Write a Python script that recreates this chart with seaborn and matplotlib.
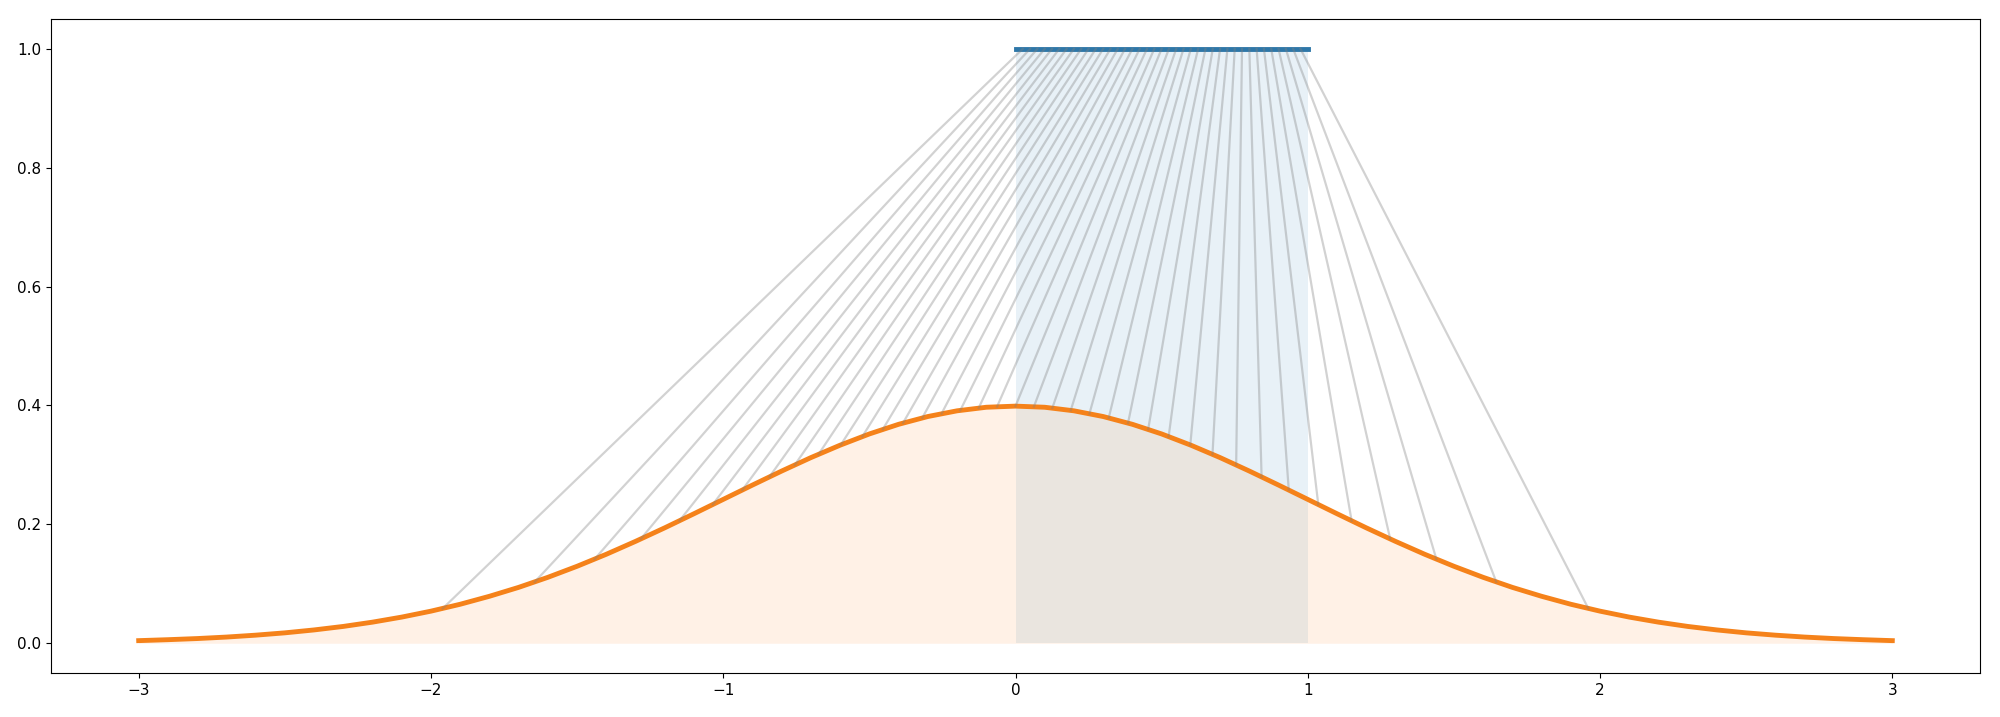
import matplotlib
matplotlib.use("Agg")
import matplotlib.pyplot as plt
import seaborn as sns
import numpy as np
import pandas as pd

# Normal density curve, x from -3 to 3 in steps of 0.1
curve_x = [-3.0, -2.9, -2.8, -2.7, -2.6, -2.5, -2.4, -2.3, -2.2, -2.1,
           -2.0, -1.9, -1.8, -1.7, -1.6, -1.5, -1.4, -1.3, -1.2, -1.1,
           -1.0, -0.9, -0.8, -0.7, -0.6, -0.5, -0.4, -0.3, -0.2, -0.1,
           0.0, 0.1, 0.2, 0.3, 0.4, 0.5, 0.6, 0.7, 0.8, 0.9,
           1.0, 1.1, 1.2, 1.3, 1.4, 1.5, 1.6, 1.7, 1.8, 1.9,
           2.0, 2.1, 2.2, 2.3, 2.4, 2.5, 2.6, 2.7, 2.8, 2.9, 3.0]
curve_y = [0.0044, 0.0060, 0.0079, 0.0104, 0.0136, 0.0175, 0.0224, 0.0283, 0.0355, 0.0440,
           0.0540, 0.0656, 0.0790, 0.0940, 0.1109, 0.1295, 0.1497, 0.1714, 0.1942, 0.2179,
           0.2420, 0.2661, 0.2897, 0.3123, 0.3332, 0.3521, 0.3683, 0.3814, 0.3910, 0.3970,
           0.3989, 0.3970, 0.3910, 0.3814, 0.3683, 0.3521, 0.3332, 0.3123, 0.2897, 0.2661,
           0.2420, 0.2179, 0.1942, 0.1714, 0.1497, 0.1295, 0.1109, 0.0940, 0.0790, 0.0656,
           0.0540, 0.0440, 0.0355, 0.0283, 0.0224, 0.0175, 0.0136, 0.0104, 0.0079, 0.0060, 0.0044]

# Uniform levels on the top bar
levels = [0.025, 0.050, 0.075, 0.100, 0.125, 0.150, 0.175, 0.200, 0.225, 0.250,
          0.275, 0.300, 0.325, 0.350, 0.375, 0.400, 0.425, 0.450, 0.475, 0.500,
          0.525, 0.550, 0.575, 0.600, 0.625, 0.650, 0.675, 0.700, 0.725, 0.750,
          0.775, 0.800, 0.825, 0.850, 0.875, 0.900, 0.925, 0.950, 0.975]
# Corresponding quantiles on the normal curve
quant_x = [-1.960, -1.645, -1.440, -1.282, -1.150, -1.036, -0.935, -0.842, -0.755, -0.674,
           -0.598, -0.524, -0.454, -0.385, -0.319, -0.253, -0.189, -0.126, -0.063, 0.000,
           0.063, 0.126, 0.189, 0.253, 0.319, 0.385, 0.454, 0.524, 0.598, 0.674,
           0.755, 0.842, 0.935, 1.036, 1.150, 1.282, 1.440, 1.645, 1.960]
quant_y = [0.0584, 0.1031, 0.1415, 0.1755, 0.2059, 0.2333, 0.2577, 0.2798, 0.3000, 0.3178,
           0.3336, 0.3477, 0.3599, 0.3704, 0.3791, 0.3863, 0.3918, 0.3957, 0.3981, 0.3989,
           0.3981, 0.3957, 0.3918, 0.3863, 0.3791, 0.3704, 0.3599, 0.3477, 0.3336, 0.3178,
           0.3000, 0.2798, 0.2577, 0.2333, 0.2059, 0.1755, 0.1415, 0.1031, 0.0584]

# Uniform density bar
uni_x = [0.0, 1.0]
uni_y = [1.0, 1.0]

fig = plt.figure(figsize=(20, 7.17), dpi=100)
ax = fig.add_axes([0.0255, 0.0614, 0.9645, 0.912])

# fills
ax.fill_between(uni_x, [0, 0], uni_y, color="C0", alpha=0.1, lw=0, zorder=0)
ax.fill_between(curve_x, 0, curve_y, color="C1", alpha=0.1, lw=0, zorder=0)

df_curve = pd.DataFrame({"x": curve_x, "y": curve_y})
sns.lineplot(data=df_curve, x="x", y="y", ax=ax, color="#f5821a", lw=3.5, zorder=2)
df_uni = pd.DataFrame({"x": uni_x, "y": uni_y})
sns.lineplot(data=df_uni, x="x", y="y", ax=ax, color="#2e77a8", lw=3.5, zorder=2)

# connecting lines (drawn above the curves)
for u, qx, qy in zip(levels, quant_x, quant_y):
    ax.plot([u, qx], [1.0, qy], color="gray", alpha=0.35, lw=1.6, zorder=3)

ax.set_xlabel("")
ax.set_ylabel("")
ax.set_xlim(-3.3, 3.3)
ax.set_ylim(-0.05, 1.05)
ax.set_xticks([-3, -2, -1, 0, 1, 2, 3])
ax.set_xticklabels(["\u22123", "\u22122", "\u22121", "0", "1", "2", "3"])
ax.set_yticks([0.0, 0.2, 0.4, 0.6, 0.8, 1.0])
ax.set_yticklabels(["0.0", "0.2", "0.4", "0.6", "0.8", "1.0"])
ax.tick_params(labelsize=11)

fig.savefig("out.png", dpi=100)
